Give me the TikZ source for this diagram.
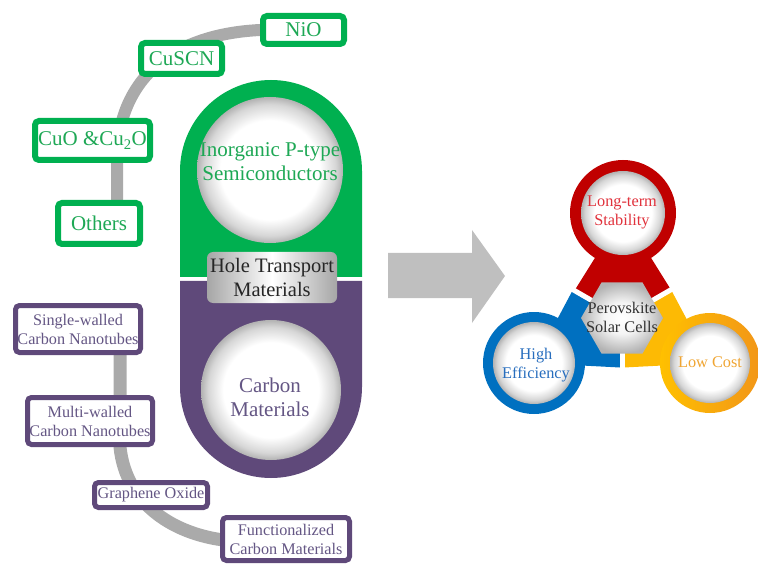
\documentclass[tikz,border=0pt]{standalone}
\usepackage{fontspec}
\setmainfont{Liberation Serif}
\usetikzlibrary{shapes.geometric,calc}
\pgfdeclarelayer{bg}
\pgfsetlayers{bg,main}
\definecolor{hgreen}{RGB}{0,176,80}
\definecolor{hgreentext}{RGB}{30,168,85}
\definecolor{hpurple}{RGB}{95,73,122}
\definecolor{hpurpletext}{RGB}{100,86,132}
\definecolor{hgray}{RGB}{170,170,170}
\definecolor{harrow}{RGB}{191,191,191}
\definecolor{hred}{RGB}{192,0,0}
\definecolor{hblue}{RGB}{0,112,192}
\definecolor{horange}{RGB}{255,192,0}
\definecolor{horangeb}{RGB}{242,150,24}
\definecolor{redtext}{RGB}{225,50,60}
\definecolor{bluetext}{RGB}{40,110,190}
\definecolor{orangetext}{RGB}{240,165,50}
\pgfdeclareradialshading{rim}{\pgfpoint{0bp}{0bp}}{color(0bp)=(white); color(17bp)=(white); color(22.5bp)=(black!16); color(25bp)=(black!30); color(50bp)=(black!30)}
\pgfdeclareradialshading{hexsh}{\pgfpoint{0bp}{0bp}}{color(0bp)=(white); color(11bp)=(white!96!black); color(25bp)=(black!30); color(50bp)=(black!30)}
\begin{document}
\begin{tikzpicture}[x=1pt,y=-1pt,
  gbox/.style={draw=hgreen, line width=6pt, fill=white, rounded corners=4pt, text=hgreentext, inner sep=0pt, font=\fontsize{21}{23}\selectfont, align=center},
  pbox/.style={draw=hpurple, line width=5pt, fill=white, rounded corners=4pt, text=hpurpletext, inner sep=0pt, font=\fontsize{16.2}{19}\selectfont, align=center},
  band/.style={draw=hgray, line width=12pt},
  rimc/.style={circle, shade, shading=rim, inner sep=0pt},
  bigtxt/.style={font=\fontsize{21}{24}\selectfont, align=center, inner sep=0pt},
  smtxt/.style={font=\fontsize{16.3}{19}\selectfont, align=center, inner sep=0pt},
  ring/.style={circle, inner sep=0pt},
  sep/.style={draw=white, line width=5pt}
]
\useasboundingbox (0,0) rectangle (758,564);

% ---------- capsule ----------
\fill[hgreen] (180,277) -- (180,171) arc[start angle=180,end angle=360,radius=91] -- (362,277) -- cycle;
\fill[hpurple] (180,281) -- (362,281) -- (362,387) arc[start angle=0,end angle=180,radius=91] -- cycle;
\node[rimc, minimum size=146] (inorgc) at (270,170) {};
\node[bigtxt, text=hgreentext] (inorg) at (270,162) {Inorganic P-type\\Semiconductors};
\node[rimc, minimum size=140] (carbc) at (271,390) {};
\node[bigtxt, text=hpurpletext] (carb) at (270,397) {Carbon\\Materials};
\node[rounded corners=6pt, left color=black!35, right color=black!35, middle color=white,
      minimum width=130, minimum height=51, inner sep=0pt,
      font=\fontsize{20.5}{24}\selectfont, align=center, text=black!85] (htm) at (272,277.5) {Hole Transport\\Materials};

% ---------- green boxes ----------
\node[gbox, minimum width=81, minimum height=28] (nio) at (303.5,30) {NiO};
\node[gbox, minimum width=81, minimum height=31] (cuscn) at (181.5,58.5) {CuSCN};
\node[gbox, minimum width=115, minimum height=39] (cuo) at (92.5,140.5) {CuO \&Cu\textsubscript{2}O};
\node[gbox, minimum width=82, minimum height=41] (others) at (99,223.5) {Others};

% ---------- purple boxes ----------
\node[pbox, minimum width=125, minimum height=47] (single) at (78,329) {Single-walled\\Carbon Nanotubes};
\node[pbox, minimum width=125, minimum height=47] (multi) at (90,421) {Multi-walled\\Carbon Nanotubes};
\node[pbox, minimum width=113, minimum height=25] (go) at (151,495) {Graphene Oxide};
\node[pbox, minimum width=127, minimum height=43] (func) at (286,539) {Functionalized\\Carbon Materials};

\coordinate (tEnd) at (117,210);
\coordinate (bStart) at (120,335);
\coordinate (bEnd) at (232,541);
\begin{pgfonlayer}{bg}
  \draw[band] (nio.center) -- (nio.west) .. controls (160,35) and (117,90) .. (117,160) -- (tEnd);
  \draw[band, line width=13pt] (bStart) -- (120,447) .. controls (126,505) and (175,536) .. (bEnd);
\end{pgfonlayer}

% ---------- arrow ----------
\fill[harrow] (388,253) -- (472,253) -- (472,230) -- (505,276) -- (472,323) -- (472,298) -- (388,298) -- cycle;

% ---------- right diagram ----------
\coordinate (O) at (622,318);
\coordinate (cr) at (623,213);
\coordinate (cb) at (534,363);
\coordinate (co) at (710,363);

\begin{scope}
  \clip (O) -- ($(O)+(-150:200)$) -- ($(O)+(-90:200)$) -- ($(O)+(-30:200)$) -- cycle;
  \fill[hred] (cr) -- ($(cr)+(58:170)$) -- ($(cr)+(122:170)$) -- cycle;
\end{scope}
\begin{scope}
  \clip (O) -- ($(O)+(90:200)$) -- ($(O)+(150:200)$) -- ($(O)+(210:200)$) -- cycle;
  \fill[hblue] (cb) -- ($(cb)+(-62:170)$) -- ($(cb)+(3:170)$) -- cycle;
\end{scope}
\begin{scope}
  \clip (O) -- ($(O)+(-30:200)$) -- ($(O)+(30:200)$) -- ($(O)+(90:200)$) -- cycle;
  \fill[horange!85!horangeb] (co) -- ($(co)+(242:170)$) -- ($(co)+(177:170)$) -- cycle;
\end{scope}
\draw[sep] (O) -- ($(O)+(-150:70)$);
\draw[sep] (O) -- ($(O)+(-30:70)$);
\draw[sep] (O) -- ($(O)+(90:70)$);

\node[ring, fill=hred, minimum size=106] (redc) at (cr) {};
\node[rimc, minimum size=84] (redin) at (cr) {};
\node[ring, fill=hblue, minimum size=102] (bluec) at (cb) {};
\node[rimc, minimum size=82] (bluein) at (cb) {};
\node[ring, left color=horange, right color=horangeb, minimum size=100] (orc) at (co) {};
\node[rimc, minimum size=80] (orin) at (co) {};

\node[regular polygon, regular polygon sides=6, minimum size=82, inner sep=0pt,
      shade, shading=hexsh] (hex) at (O) {};
\node[smtxt, text=black!80] (pscs) at (622,317) {Perovskite\\Solar Cells};
\node[smtxt, text=redtext] (lts) at (622,212) {Long-term\\Stability};
\node[smtxt, text=bluetext] (he) at (536,365) {High\\Efficiency};
\node[smtxt, text=orangetext] (lc) at (710,362) {Low Cost};
\end{tikzpicture}
\end{document}
